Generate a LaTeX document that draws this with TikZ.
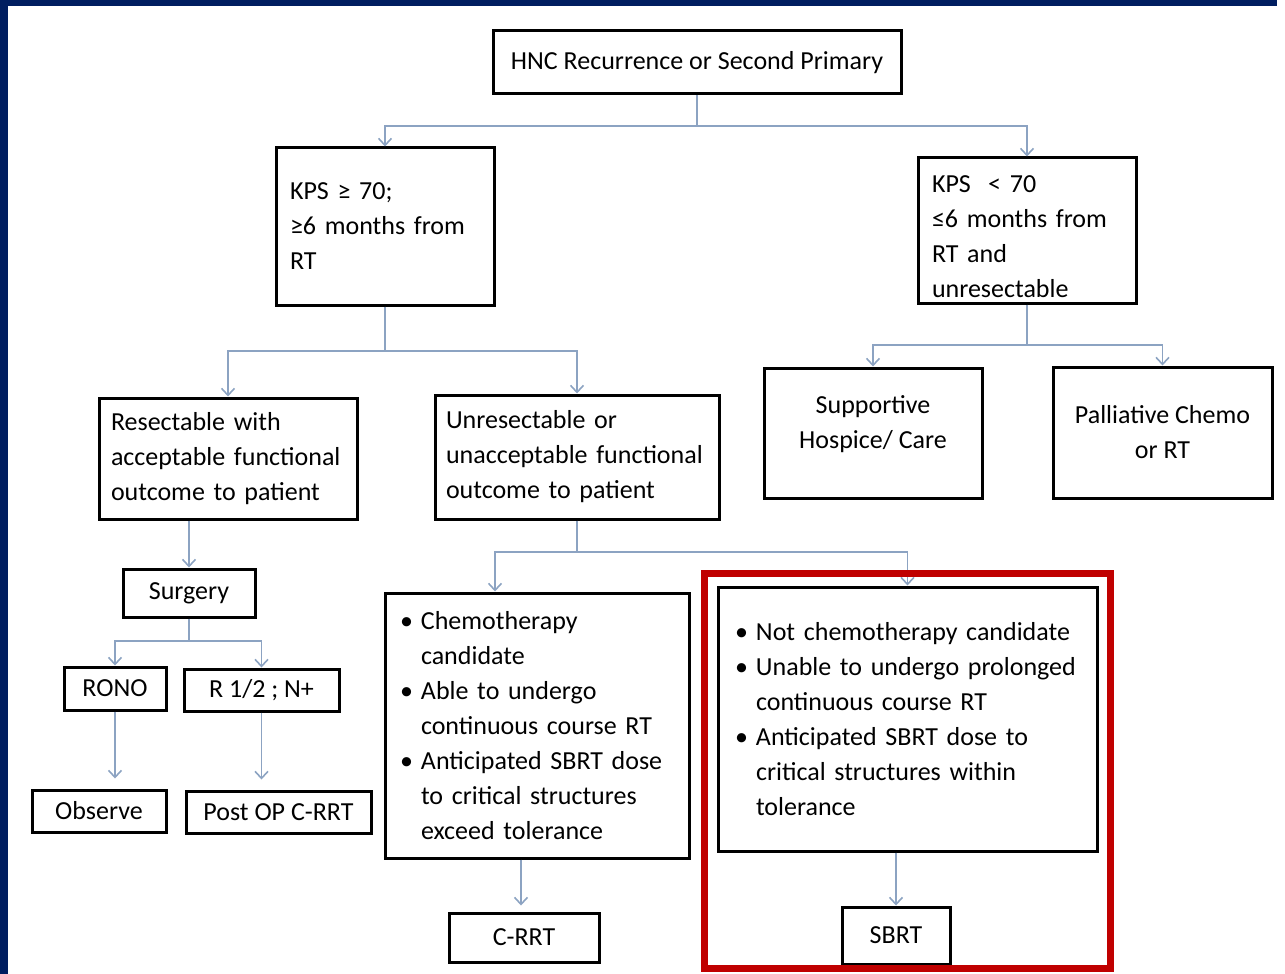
\documentclass[tikz,border=0pt]{standalone}
\usepackage{fontspec}
\setmainfont{Carlito}
\usetikzlibrary{arrows.meta,positioning}
\definecolor{navy}{RGB}{0,30,96}
\definecolor{linkblue}{RGB}{140,163,194}
\definecolor{framered}{RGB}{192,0,0}
\newcommand{\bitem}[1]{\noindent\hangindent=10.5pt\hangafter=1\makebox[10.5pt][l]{\textbullet}#1\par}

\begin{document}
\begin{tikzpicture}[
x=0.5pt, y=-0.5pt,
font=\fontsize{13}{17.5}\selectfont,
box/.style={draw, line width=1.5pt, inner sep=0pt, align=center},
tbox/.style={box, align=left, inner xsep=7pt},
arrow/.style={-{Straight Barb[length=3.5pt,width=6.5pt]}, draw=linkblue, line width=0.8pt},
link/.style={draw=linkblue, line width=0.8pt},
frame/.style={draw=framered, line width=3.5pt}
]
\useasboundingbox (0,0) rectangle (1285,974);
\fill[navy] (0,0) rectangle (1277,6);
\fill[navy] (0,0) rectangle (8,974);

\node[box, minimum width=204pt, minimum height=31.5pt] (h) at (697,62.5) {HNC Recurrence or Second Primary};
\node[tbox, minimum width=109pt, minimum height=78.5pt, text width=95pt] (hi) at (385,226.5) {KPS ≥ 70;\\≥6 months from\\RT};
\node[tbox, minimum width=109pt, minimum height=72.5pt, text width=95pt, text height=15pt] (lo) at (1027,230.5) {KPS~~< 70\\≤6 months from\\RT and\\unresectable};
\node[box, minimum width=109pt, minimum height=65pt, text depth=11pt] (sup) at (873,433) {Supportive\\Hospice/ Care};
\node[box, minimum width=109.5pt, minimum height=65.5pt] (pal) at (1162.5,432.5) {Palliative Chemo\\or RT};
\node[tbox, inner xsep=6pt, minimum width=129pt, minimum height=60.5pt, text width=117pt] (res) at (228,458.5) {Resectable with\\acceptable functional\\outcome to patient};
\node[tbox, inner xsep=5.5pt, minimum width=142pt, minimum height=62pt, text width=131pt] (unr) at (577,457) {Unresectable or\\unacceptable functional\\outcome to patient};
\node[box, minimum width=66pt, minimum height=24pt] (surg) at (189,593) {Surgery};
\node[box, minimum width=51pt, minimum height=21.5pt] (rono) at (115,688.5) {RONO};
\node[box, minimum width=77.5pt, minimum height=21pt] (rpos) at (261.5,690) {R 1/2 ; N+};
\node[box, minimum width=67pt, minimum height=21pt] (obs) at (99,811) {Observe};
\node[box, minimum width=92.5pt, minimum height=21pt] (post) at (278.5,812) {Post OP C-RRT};
\node[tbox, inner xsep=7.5pt, minimum width=152pt, minimum height=132.5pt, text width=137pt, text height=18pt, text depth=114.5pt] (chem) at (537,725.5) {\bitem{Chemotherapy\newline candidate}\bitem{Able to undergo\newline continuous course RT}\bitem{Anticipated SBRT dose\newline to critical structures\newline exceed tolerance}};
\node[tbox, inner xsep=8.5pt, minimum width=189.5pt, minimum height=132pt, text width=172.5pt, text height=26.5pt, text depth=105.5pt] (noch) at (907.5,719) {\bitem{Not chemotherapy candidate}\bitem{Unable to undergo prolonged\newline continuous course RT}\bitem{Anticipated SBRT dose to\newline critical structures within\newline tolerance}};
\node[box, minimum width=75pt, minimum height=24.5pt] (crrt) at (524,937.5) {C-RRT};
\node[box, minimum width=54pt, minimum height=28.5pt] (sbrt) at (896,935.5) {SBRT};

\coordinate (j1) at (697,126);
\coordinate (j2) at (385,351);
\coordinate (j3) at (1027,345);
\coordinate (j4) at (189,641);
\coordinate (j5) at (577,552);
\draw[link] (h.south) -- (j1);
\draw[arrow] (j1) -| (hi.north);
\draw[arrow] (j1) -| (lo.north);
\draw[link] (hi.south) -- (j2);
\draw[arrow] (j2) -| (res.north);
\draw[arrow] (j2) -| (unr.north);
\draw[link] (lo.south) -- (j3);
\draw[arrow] (j3) -| (sup.north);
\draw[arrow] (j3) -| (pal.north);
\draw[arrow] (surg.north |- res.south) -- (surg.north);
\draw[link] (surg.south) -- (j4);
\draw[arrow] (j4) -| (rono.north);
\draw[arrow] (j4) -| (rpos.north);
\draw[arrow, shorten >=5pt] (rono.south) -- (rono.south |- obs.north);
\draw[arrow, shorten >=5pt] (rpos.south) -- (rpos.south |- post.north);
\draw[link] (unr.south) -- (j5);
\draw[arrow] (j5) -| ([xshift=-21pt]chem.north);
\draw[arrow] (j5) -| (noch.north);
\draw[arrow, shorten >=3pt] ([xshift=-1.5pt]crrt.north |- chem.south) -- ([xshift=-1.5pt]crrt.north);
\draw[arrow] (sbrt.north |- noch.south) -- (sbrt.north);

\draw[frame] (704.5,573.5) rectangle (1110.5,968.5);
\end{tikzpicture}
\end{document}
